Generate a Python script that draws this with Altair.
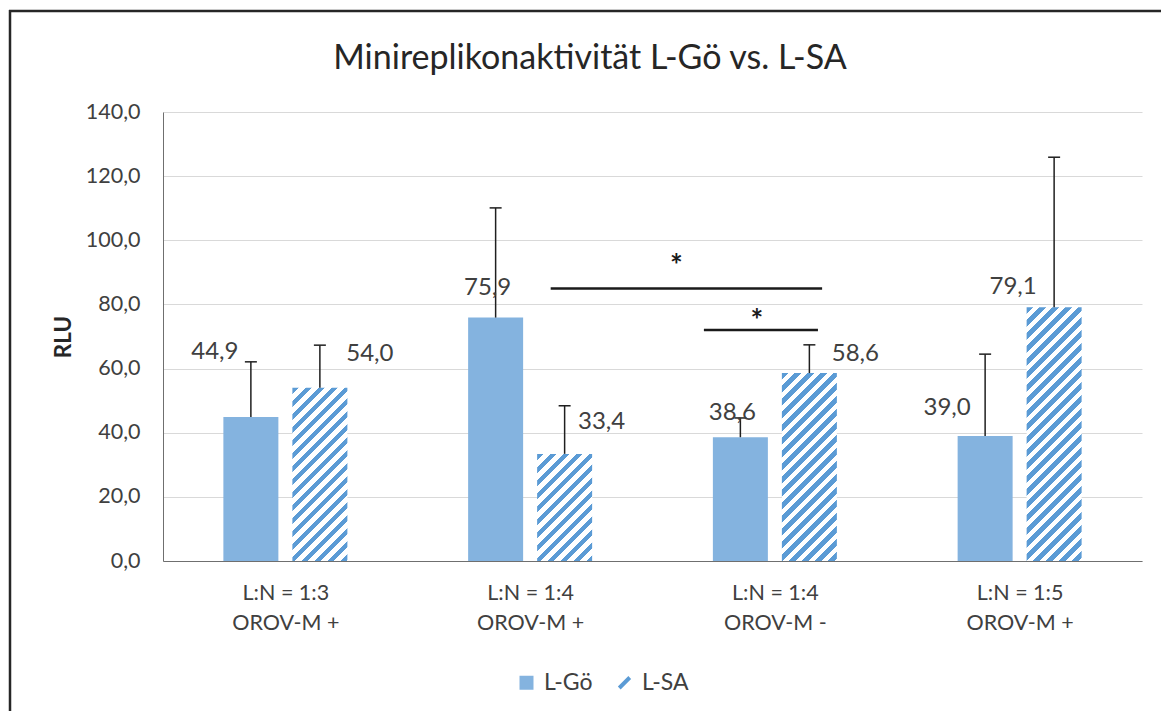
import json
import altair as alt
import pandas as pd

# ---- data -------------------------------------------------------------
categories = [
    ["L:N = 1:3", "OROV-M +"],
    ["L:N = 1:4", "OROV-M +"],
    ["L:N = 1:4", "OROV-M -"],
    ["L:N = 1:5", "OROV-M +"],
]
series = ["L-Gö", "L-SA"]
lgo_mean = [44.9, 75.9, 38.6, 39.0]
lsa_mean = [54.0, 33.4, 58.6, 79.1]
lgo_err = [17.2, 34.2, 6.0, 25.5]
lsa_err = [13.3, 15.0, 8.8, 46.8]
y_ticks = [0, 20, 40, 60, 80, 100, 120, 140]

# significance brackets: (start, end) on the group axis, height in RLU
sig_lines = [(1.584, 2.693, 85.0), (2.210, 2.676, 72.0)]
sig_stars = [(2.098, 93.8), (2.426, 76.8)]

title_text = "Minireplikonaktivität L-Gö vs. L-SA"

# ---- layout -----------------------------------------------------------
W, H = 979, 449
PAD = {"left": 163, "top": 112, "right": 19, "bottom": 150}
UNIT = W / 4.0          # pixels per group
VPX = H / 140.0         # pixels per RLU
BAR_OFF = 34.5 / UNIT
BAR_HALF = 27.5 / UNIT
CAP_HALF = 6.0 / UNIT

SOLID = "#84b3df"
STRIPE = "#5b9bd5"
TXT = "#404040"
FONT = "Lato"

# label nudges in pixels (dx, dy) from the top-centre of each bar
nudges = {
    ("L-Gö", 0): (-36, -65), ("L-SA", 0): (50, -34),
    ("L-Gö", 1): (-8, -30), ("L-SA", 1): (37, -32),
    ("L-Gö", 2): (-8, -24), ("L-SA", 2): (46, -19),
    ("L-Gö", 3): (-38, -28), ("L-SA", 3): (-41, -20),
}

rows = []
for i in range(len(categories)):
    for s, means, errs, sign in ((series[0], lgo_mean, lgo_err, -1),
                                 (series[1], lsa_mean, lsa_err, 1)):
        m, e = means[i], errs[i]
        c = i + 0.5 + sign * BAR_OFF
        dx, dy = nudges[(s, i)]
        rows.append({
            "group": i, "series": s, "mean": m, "top": m + e, "base": 0.0,
            "center": c, "x0": c - BAR_HALF, "x1": c + BAR_HALF,
            "cap0": c - CAP_HALF, "cap1": c + CAP_HALF, "mid": m / 2,
            "label": f"{m:.1f}".replace(".", ","),
            "lx": c + dx / UNIT, "ly": m - dy / VPX,
        })
df = pd.DataFrame(rows)

sig_df = pd.DataFrame([{"s0": a, "s1": b, "sy": y} for a, b, y in sig_lines])
star_df = pd.DataFrame([{"tx": x, "ty": y, "t": "*"} for x, y in sig_stars])

xscale = alt.Scale(domain=[0, 4], nice=False, zero=False)
yscale = alt.Scale(domain=[0, 140], nice=False)
label_lookup = json.dumps(categories, ensure_ascii=False)
xaxis = alt.Axis(
    title=None, values=[0.5, 1.5, 2.5, 3.5], grid=False, ticks=False,
    labelExpr=f"{label_lookup}[floor(datum.value)]",
    labelFont=FONT, labelFontSize=21.5, labelColor=TXT, labelLineHeight=30,
    labelPadding=21, labelBaseline="top", domainColor="#6f6f6f", labelFlush=False,
)
yaxis = alt.Axis(
    title="RLU", values=y_ticks, ticks=False, grid=True, gridColor="#d9d9d9",
    labelExpr="replace(format(datum.value, '.1f'), '.', ',')",
    labelFont=FONT, labelFontSize=21.5, labelColor=TXT, labelPadding=23,
    domainColor="#6f6f6f", titleFont=FONT, titleFontSize=22.5, titleFontWeight="bold",
    titleColor="#262626", titleAngle=-90, titleX=-100, titleY=H / 2,
    titleAlign="center", titleBaseline="middle",
)


def X(field):
    return alt.X(field, type="quantitative", scale=xscale, axis=xaxis)


def Y(field):
    return alt.Y(field, type="quantitative", scale=yscale, axis=yaxis)


def stripes(h_px, w_px=55.0, period=13.0, frac=0.47):
    """Diagonal '/' hatching as a hard-stop linear gradient sized to one bar."""
    n = (w_px + h_px) / period
    t = (w_px + h_px) / (w_px ** 2 + h_px ** 2)
    stops = []
    k = 0
    while k / n < 1:
        a = k / n
        b = min((k + frac) / n, 1.0)
        c = min((k + 1) / n, 1.0)
        stops += [(a, STRIPE), (b, STRIPE), (b, "#ffffff"), (c, "#ffffff")]
        k += 1
    return alt.LinearGradient(
        gradient="linear", x1=0, y1=0, x2=w_px * t, y2=h_px * t,
        stops=[alt.GradientStop(offset=o, color=col) for o, col in stops],
    )


one = pd.DataFrame({"k": [0]})

frame_left = alt.Chart(one).mark_rule(color="#262626", strokeWidth=2.5).encode(
    x=alt.value(-153), y=alt.value(-102), y2=alt.value(H + PAD["bottom"]))
frame_top = alt.Chart(one).mark_rule(color="#262626", strokeWidth=2.5).encode(
    y=alt.value(-101), x=alt.value(-154), x2=alt.value(W + PAD["right"]))

legend = alt.Legend(
    orient="none", legendX=352, legendY=559, direction="horizontal", title=None,
    labelFont=FONT, labelFontSize=23, labelColor=TXT, symbolSize=196,
    labelOffset=6, columnPadding=20, symbolStrokeWidth=0,
)
legend_keys = alt.Chart(df).mark_point(filled=True, size=196, opacity=1).encode(
    x=X("center"), y=Y("mid"),
    color=alt.Color("series:N", scale=alt.Scale(domain=series, range=[SOLID, STRIPE]), legend=legend),
    shape=alt.Shape("series:N", scale=alt.Scale(
        domain=series, range=["square", "M-0.95,0.55L0.55,-0.95L0.95,-0.55L-0.55,0.95Z"]), legend=legend),
)

solid_bars = alt.Chart(df[df.series == series[0]]).mark_rect(color=SOLID).encode(
    x=X("x0"), x2="x1", y=Y("mean"), y2="base")

hatched = []
for _, r in df[df.series == series[1]].iterrows():
    hatched.append(
        alt.Chart(pd.DataFrame([r.to_dict()])).mark_rect(
            fill=stripes(r["mean"] * VPX), strokeWidth=0
        ).encode(x=X("x0"), x2="x1", y=Y("mean"), y2="base")
    )

err_stem = alt.Chart(df).mark_rule(color="#1f1f1f", strokeWidth=1.5).encode(
    x=X("center"), y=Y("mean"), y2="top")
err_cap = alt.Chart(df).mark_rule(color="#1f1f1f", strokeWidth=1.5).encode(
    x=X("cap0"), x2="cap1", y=Y("top"))

labels = alt.Chart(df).mark_text(
    font=FONT, fontSize=24, color=TXT, align="center", baseline="middle"
).encode(x=X("lx"), y=Y("ly"), text="label:N")

sig = alt.Chart(sig_df).mark_rule(color="#1a1a1a", strokeWidth=2.5).encode(
    x=X("s0"), x2="s1", y=Y("sy"))
stars = alt.Chart(star_df).mark_text(
    font=FONT, fontSize=30, fontWeight="bold", color="#1a1a1a",
    align="center", baseline="alphabetic", dy=16,
).encode(x=X("tx"), y=Y("ty"), text="t:N")

title = alt.Chart(one).mark_text(
    text=title_text, font=FONT, fontSize=34, color="#262626",
    align="center", baseline="alphabetic",
).encode(x=alt.value(590 - PAD["left"]), y=alt.value(69 - PAD["top"]))

chart = alt.layer(
    frame_left, frame_top, legend_keys, solid_bars, *hatched,
    err_stem, err_cap, labels, sig, stars, title,
).properties(
    width=W, height=H, padding=PAD,
    autosize=alt.AutoSizeParams(type="none"), background="white",
).configure_view(stroke=None)

chart.save("out.html", embed_options={"renderer": "svg", "actions": False})
